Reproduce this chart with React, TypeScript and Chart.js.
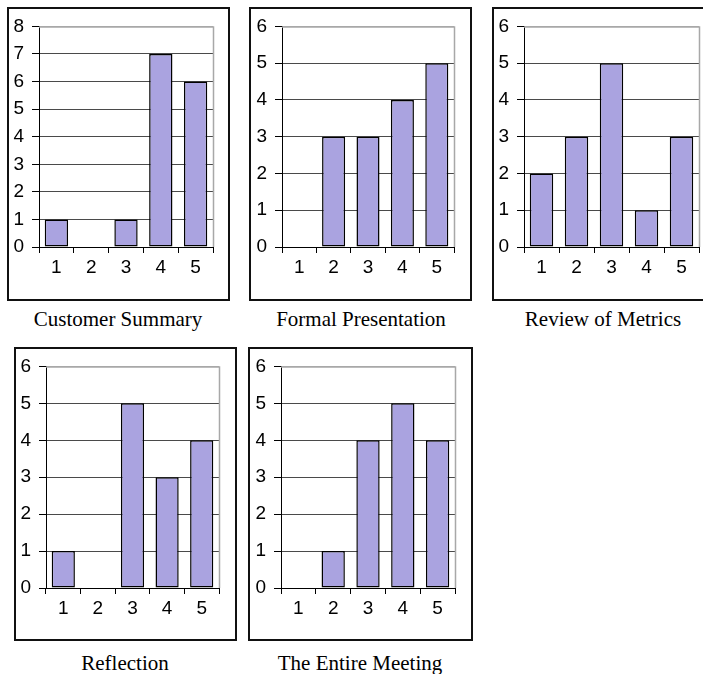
import React, { useEffect, useRef } from 'react';
import { Chart, registerables } from 'chart.js';

Chart.register(...registerables);

// ---- data ----
const CATEGORIES = ['1', '2', '3', '4', '5'];
const CUSTOMER_SUMMARY = [1, 0, 1, 7, 6];
const FORMAL_PRESENTATION = [0, 3, 3, 4, 5];
const REVIEW_OF_METRICS = [2, 3, 5, 1, 3];
const REFLECTION = [1, 0, 5, 3, 4];
const ENTIRE_MEETING = [0, 1, 4, 5, 4];
const TITLES = ['Customer Summary', 'Formal Presentation', 'Review of Metrics', 'Reflection', 'The Entire Meeting'];
const Y_MAX = [8, 6, 6, 6, 6];
const SERIES = [CUSTOMER_SUMMARY, FORMAL_PRESENTATION, REVIEW_OF_METRICS, REFLECTION, ENTIRE_MEETING];

// ---- layout (page pixels) ----
const PAGE_W = 703;
const PAGE_H = 674;
const LAYOUT = [
  { box: { l: 7, t: 7, r: 230, b: 301 }, plot: { l: 39, t: 25, r: 213, b: 247 }, cap: { x: 118, y: 309 } },
  { box: { l: 249, t: 7, r: 472, b: 301 }, plot: { l: 282, t: 25, r: 454, b: 247 }, cap: { x: 361, y: 309 } },
  { box: { l: 492, t: 7, r: 712, b: 301 }, plot: { l: 524, t: 25, r: 699, b: 247 }, cap: { x: 603, y: 309 } },
  { box: { l: 14, t: 347, r: 237, b: 641 }, plot: { l: 46, t: 366, r: 219, b: 588 }, cap: { x: 125, y: 653 } },
  { box: { l: 248, t: 347, r: 473, b: 641 }, plot: { l: 281, t: 366, r: 455, b: 588 }, cap: { x: 360, y: 653 } },
];

const BAR_COLOR = '#aaa3e0';
const GRID_COLOR = '#4a4a4a';
const PLOT_BORDER = '#a8a8a8';
const TICK_FONT = { family: '"Liberation Sans", Arial, Helvetica, sans-serif', size: 19 };
const Y_W = 30;
const X_H = 40;

function Panel({ idx }: { idx: number }) {
  const ref = useRef<HTMLCanvasElement | null>(null);
  const lay = LAYOUT[idx];
  const cw = Math.min(lay.box.r, PAGE_W) - lay.box.l;
  const ch = lay.box.b - lay.box.t;
  const boxW = lay.box.r - lay.box.l;

  useEffect(() => {
    if (!ref.current) return;
    const yMax = Y_MAX[idx];
    const framePlugin = {
      id: 'frame' + idx,
      beforeDatasetsDraw(chart: any) {
        const { ctx, chartArea } = chart;
        ctx.save();
        ctx.strokeStyle = PLOT_BORDER;
        ctx.lineWidth = 1.5;
        ctx.beginPath();
        ctx.moveTo(chartArea.left, chartArea.top + 0.5);
        ctx.lineTo(chartArea.right + 0.5, chartArea.top + 0.5);
        ctx.lineTo(chartArea.right + 0.5, chartArea.bottom);
        ctx.stroke();
        ctx.restore();
      },
      afterDraw(chart: any) {
        const { ctx } = chart;
        ctx.save();
        ctx.strokeStyle = '#111';
        ctx.lineWidth = 2;
        ctx.strokeRect(1, 1, boxW - 2, ch - 2);
        ctx.restore();
      },
    };
    const chart = new Chart(ref.current, {
      type: 'bar',
      data: {
        labels: CATEGORIES,
        datasets: [
          {
            data: SERIES[idx],
            backgroundColor: BAR_COLOR,
            borderColor: '#000',
            borderWidth: 1.5,
            borderSkipped: false,
            categoryPercentage: 1,
            barPercentage: 0.67,
          } as any,
        ],
      },
      options: {
        responsive: false,
        animation: false,
        devicePixelRatio: 1,
        layout: {
          padding: {
            left: lay.plot.l - lay.box.l - Y_W,
            top: lay.plot.t - lay.box.t,
            right: lay.box.l + cw - lay.plot.r,
            bottom: lay.box.b - lay.plot.b - X_H,
          },
        },
        plugins: { legend: { display: false }, tooltip: { enabled: false }, title: { display: false } },
        scales: {
          x: {
            offset: true,
            grid: { offset: true, drawOnChartArea: false, drawTicks: true, tickLength: 6, color: '#000', tickColor: '#000' },
            border: { color: '#000', width: 1 },
            ticks: { font: TICK_FONT, color: '#000', padding: 3, autoSkip: false, maxRotation: 0 },
            afterFit: (s: any) => {
              s.height = X_H;
            },
          },
          y: {
            min: 0,
            max: yMax,
            ticks: { stepSize: 1, font: TICK_FONT, color: '#000', padding: 8, autoSkip: false },
            grid: {
              color: (c: any) => (c.tick && c.tick.value === yMax ? PLOT_BORDER : GRID_COLOR),
              tickColor: '#000',
              tickLength: 7,
            },
            border: { color: '#000', width: 1 },
            afterFit: (s: any) => {
              s.width = Y_W;
            },
          },
        },
      } as any,
      plugins: [framePlugin],
    });
    return () => chart.destroy();
  }, [idx]);

  return (
    <>
      <canvas
        ref={ref}
        width={cw}
        height={ch}
        style={{ position: 'absolute', left: lay.box.l, top: lay.box.t, width: cw, height: ch, display: 'block' }}
      />
      <div
        style={{
          position: 'absolute',
          left: lay.cap.x,
          top: lay.cap.y,
          transform: 'translateX(-50%)',
          whiteSpace: 'nowrap',
          fontFamily: '"Liberation Serif", "Times New Roman", Times, serif',
          fontSize: 21,
          lineHeight: '21px',
          color: '#000',
        }}
      >
        {TITLES[idx]}
      </div>
    </>
  );
}

export default function App() {
  return (
    <div
      style={{
        position: 'fixed',
        left: 0,
        top: 0,
        width: PAGE_W,
        height: PAGE_H,
        overflow: 'hidden',
        background: '#fff',
      }}
    >
      {SERIES.map((_, i) => (
        <Panel key={i} idx={i} />
      ))}
    </div>
  );
}
